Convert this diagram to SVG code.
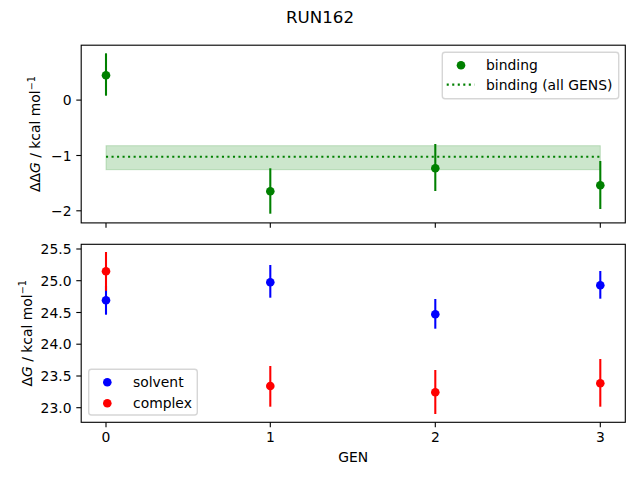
<svg xmlns="http://www.w3.org/2000/svg" width="640" height="480" viewBox="0 0 640 480">
<style>
text{font-family:"DejaVu Sans","Liberation Sans",sans-serif;font-size:13.9px;fill:#000}
.frame{fill:none;stroke:#000;stroke-width:1.11}
.tick{stroke:#000;stroke-width:1.11}
.yl{text-anchor:end}
.xl{text-anchor:middle}
.g{fill:#008000}.b{fill:#0000ff}.r{fill:#ff0000}
.eg{stroke:#008000;stroke-width:2.08}.eb{stroke:#0000ff;stroke-width:2.08}.er{stroke:#ff0000;stroke-width:2.08}
.leg{fill:#fff;fill-opacity:0.8;stroke:#cccccc;stroke-opacity:0.8;stroke-width:1.39}
</style>
<rect width="640" height="480" fill="#fff"/>
<text x="320" y="23" text-anchor="middle" style="font-size:16.67px">RUN162</text>

<g id="top-axes">
  <rect x="106" y="145.7" width="494.3" height="24" fill="#008000" fill-opacity="0.2" stroke="#008000" stroke-opacity="0.2" stroke-width="1"/>
  <line x1="106" y1="156.7" x2="600.3" y2="156.7" stroke="#008000" stroke-width="2.08" stroke-dasharray="2.08 3.44"/>
  <g id="binding-points">
    <line class="eg" x1="106" y1="53.3" x2="106" y2="95.7"/><circle class="g" cx="106" cy="75.3" r="4.3"/>
    <line class="eg" x1="270.3" y1="168.3" x2="270.3" y2="213.7"/><circle class="g" cx="270.3" cy="191.3" r="4.3"/>
    <line class="eg" x1="435.3" y1="144" x2="435.3" y2="191"/><circle class="g" cx="435.3" cy="168.3" r="4.3"/>
    <line class="eg" x1="600.3" y1="161" x2="600.3" y2="209"/><circle class="g" cx="600.3" cy="185.3" r="4.3"/>
  </g>
  <rect class="frame" x="81.2" y="45.2" width="544.1" height="177.7"/>
  <g class="tick">
    <line x1="81.2" y1="100.1" x2="76.3" y2="100.1"/>
    <line x1="81.2" y1="155.5" x2="76.3" y2="155.5"/>
    <line x1="81.2" y1="210.8" x2="76.3" y2="210.8"/>
    <line x1="106" y1="222.9" x2="106" y2="227.8"/>
    <line x1="270.3" y1="222.9" x2="270.3" y2="227.8"/>
    <line x1="435.3" y1="222.9" x2="435.3" y2="227.8"/>
    <line x1="600.3" y1="222.9" x2="600.3" y2="227.8"/>
  </g>
  <text class="yl" x="71.5" y="105.1">0</text>
  <text class="yl" x="71.5" y="160.5">−1</text>
  <text class="yl" x="71.5" y="215.8">−2</text>
  <text transform="translate(40,134) rotate(-90)" text-anchor="middle">ΔΔ<tspan font-style="italic">G</tspan> / kcal mol<tspan dy="-5.5" style="font-size:9.7px">−1</tspan></text>
  <g id="legend-top">
    <rect class="leg" x="442.3" y="52.3" width="176.4" height="46.4" rx="2.8"/>
    <circle class="g" cx="461" cy="65.3" r="4.3"/>
    <text x="486" y="70">binding</text>
    <line x1="446.7" y1="84.6" x2="474.5" y2="84.6" stroke="#008000" stroke-width="2.08" stroke-dasharray="2.08 3.44"/>
    <text x="486" y="89.5">binding (all GENS)</text>
  </g>
</g>

<g id="bottom-axes">
  <g id="solvent-points">
    <line class="eb" x1="106" y1="286" x2="106" y2="314.7"/><circle class="b" cx="106" cy="300.3" r="4.3"/>
    <line class="eb" x1="270.3" y1="265" x2="270.3" y2="297.7"/><circle class="b" cx="270.3" cy="282.3" r="4.3"/>
    <line class="eb" x1="435.3" y1="299" x2="435.3" y2="328.7"/><circle class="b" cx="435.3" cy="314.3" r="4.3"/>
    <line class="eb" x1="600.3" y1="271" x2="600.3" y2="298.7"/><circle class="b" cx="600.3" cy="285.3" r="4.3"/>
  </g>
  <g id="complex-points">
    <line class="er" x1="106" y1="252" x2="106" y2="290.8"/><circle class="r" cx="106" cy="271.3" r="4.3"/>
    <line class="er" x1="270.3" y1="366" x2="270.3" y2="406.7"/><circle class="r" cx="270.3" cy="386" r="4.3"/>
    <line class="er" x1="435.3" y1="370" x2="435.3" y2="414"/><circle class="r" cx="435.3" cy="392.3" r="4.3"/>
    <line class="er" x1="600.3" y1="359" x2="600.3" y2="406.7"/><circle class="r" cx="600.3" cy="383.3" r="4.3"/>
  </g>
  <rect class="frame" x="81.2" y="244.3" width="544.1" height="178"/>
  <g class="tick">
    <line x1="81.2" y1="249" x2="76.3" y2="249"/>
    <line x1="81.2" y1="280.7" x2="76.3" y2="280.7"/>
    <line x1="81.2" y1="312.5" x2="76.3" y2="312.5"/>
    <line x1="81.2" y1="344.2" x2="76.3" y2="344.2"/>
    <line x1="81.2" y1="376" x2="76.3" y2="376"/>
    <line x1="81.2" y1="407.7" x2="76.3" y2="407.7"/>
    <line x1="106" y1="422.3" x2="106" y2="427.2"/>
    <line x1="270.3" y1="422.3" x2="270.3" y2="427.2"/>
    <line x1="435.3" y1="422.3" x2="435.3" y2="427.2"/>
    <line x1="600.3" y1="422.3" x2="600.3" y2="427.2"/>
  </g>
  <text class="yl" x="71.5" y="254">25.5</text>
  <text class="yl" x="71.5" y="285.7">25.0</text>
  <text class="yl" x="71.5" y="317.5">24.5</text>
  <text class="yl" x="71.5" y="349.2">24.0</text>
  <text class="yl" x="71.5" y="381">23.5</text>
  <text class="yl" x="71.5" y="412.7">23.0</text>
  <text class="xl" x="106" y="441.5">0</text>
  <text class="xl" x="270.3" y="441.5">1</text>
  <text class="xl" x="435.3" y="441.5">2</text>
  <text class="xl" x="600.3" y="441.5">3</text>
  <text class="xl" x="353.3" y="462">GEN</text>
  <text transform="translate(31.7,333.3) rotate(-90)" text-anchor="middle">Δ<tspan font-style="italic">G</tspan> / kcal mol<tspan dy="-5.5" style="font-size:9.7px">−1</tspan></text>
  <g id="legend-bottom">
    <rect class="leg" x="88.7" y="369.3" width="108.6" height="45.7" rx="2.8"/>
    <circle class="b" cx="107.3" cy="382.3" r="4.3"/>
    <text x="133" y="387">solvent</text>
    <circle class="r" cx="107.3" cy="403.3" r="4.3"/>
    <text x="133" y="407.7">complex</text>
  </g>
</g>
</svg>
